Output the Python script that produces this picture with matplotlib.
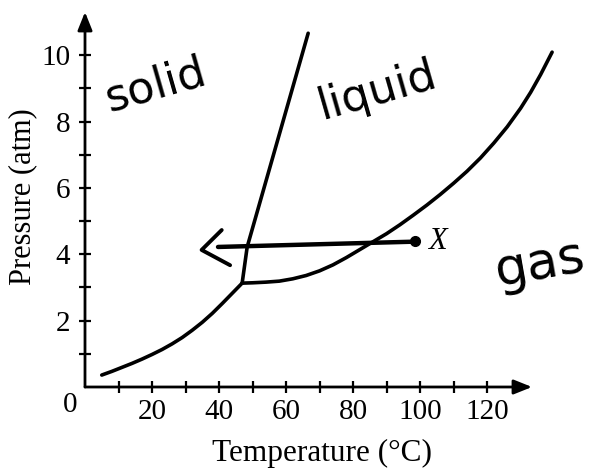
import matplotlib
matplotlib.use("Agg")
import matplotlib.pyplot as plt

plt.rcParams['font.family'] = ['Liberation Serif', 'DejaVu Serif']

# ---- data ----
# solid-gas (sublimation) boundary
sub_T = [5.0, 8, 11, 14, 17, 20, 23, 26, 29, 32, 35, 38, 41, 44, 46.9]
sub_P = [0.36, 0.47, 0.59, 0.71, 0.84, 0.98, 1.13, 1.30, 1.49, 1.71, 1.95,
         2.22, 2.52, 2.83, 3.13]
# solid-liquid (melting) boundary
melt_T = [46.9, 48.4, 57.5, 66.6]
melt_P = [3.13, 4.22, 7.44, 10.66]
# liquid-gas (vapour) boundary
vap_T = [46.9, 50, 54, 58, 62, 66, 70, 74, 78, 82, 86, 90, 94, 98, 102, 106,
         110, 114, 118, 122, 126, 130, 133, 136, 139.4]
vap_P = [3.13, 3.14, 3.16, 3.19, 3.26, 3.36, 3.50, 3.68, 3.90, 4.14, 4.38,
         4.62, 4.89, 5.18, 5.48, 5.80, 6.14, 6.50, 6.90, 7.35, 7.84, 8.40,
         8.88, 9.42, 10.09]
# handwritten path from point X toward the left
path_T = [98.5, 39.7]
path_P = [4.38, 4.22]
head_T = [40.8, 34.8, 43.3]
head_P = [4.73, 4.13, 3.67]
point_X = (98.5, 4.40)

x_ticks = [10, 20, 30, 40, 50, 60, 70, 80, 90, 100, 110, 120]
x_labels = ['', '20', '', '40', '', '60', '', '80', '', '100', '', '120']
y_ticks = [1, 2, 3, 4, 5, 6, 7, 8, 9, 10]
y_labels = ['', '2', '', '4', '', '6', '', '8', '', '10']
x_max, y_max = 133.4, 11.3

fig = plt.figure(figsize=(5.93, 4.68), dpi=100)
ax = fig.add_axes([85/593, 81/468, 447/593, 375/468])
ax.set_xlim(0, x_max)
ax.set_ylim(0, y_max)
for s in ax.spines.values():
    s.set_visible(False)

# axes with arrowheads
arrow_kw = dict(arrowstyle='-|>,head_length=0.55,head_width=0.22', lw=2.0,
                color='black', mutation_scale=20, shrinkA=0, shrinkB=0)
ax.annotate('', xy=(x_max, 0), xytext=(0, 0), arrowprops=arrow_kw,
            annotation_clip=False)
ax.annotate('', xy=(0, y_max), xytext=(0, 0), arrowprops=arrow_kw,
            annotation_clip=False)

ax.set_xticks(x_ticks)
ax.set_xticklabels(x_labels)
ax.set_yticks(y_ticks)
ax.set_yticklabels(y_labels)
ax.tick_params(axis='both', direction='inout', length=9, width=1.6,
               labelsize=21, color='black')
ax.tick_params(axis='x', pad=4)
ax.tick_params(axis='y', pad=6)
ax.text(-4.5, -0.54, '0', ha='center', va='center', fontsize=21)

fig.text(322/593, (468-461)/468, 'Temperature (°C)', ha='center',
         va='baseline', fontsize=22.5)
fig.text(23/593, (468-197)/468, 'Pressure (atm)', ha='center',
         va='center', rotation=90, fontsize=22)

lw = 2.6
ax.plot(sub_T, sub_P, color='black', lw=lw, solid_capstyle='round',
        solid_joinstyle='round', clip_on=False)
ax.plot(melt_T, melt_P, color='black', lw=lw, solid_capstyle='round',
        solid_joinstyle='round', clip_on=False)
ax.plot(vap_T, vap_P, color='black', lw=lw, solid_capstyle='round',
        solid_joinstyle='round', clip_on=False)

ax.plot(path_T, path_P, color='black', lw=3.2, solid_capstyle='round', clip_on=False)
ax.plot(head_T, head_P, color='black', lw=2.8, solid_capstyle='round',
        solid_joinstyle='round', clip_on=False)
ax.plot([point_X[0]], [point_X[1]], 'o', color='black', ms=7, clip_on=False)
ax.text(102.4, 4.37, 'X', ha='left', va='center', fontsize=22, style='italic')

hand = dict(family=['DejaVu Sans'], weight='normal', color='black',
            rotation_mode='anchor')
ax.text(22.1, 8.73, 'solid', ha='center', va='baseline', fontsize=32,
        rotation=16, **hand)
ax.text(88.4, 8.58, 'liquid', ha='center', va='baseline', fontsize=32,
        rotation=16, **hand)
ax.text(123.0, 3.05, 'gas', ha='left', va='baseline', fontsize=37,
        rotation=10, clip_on=False, **hand)

fig.savefig('out.png', dpi=100)
